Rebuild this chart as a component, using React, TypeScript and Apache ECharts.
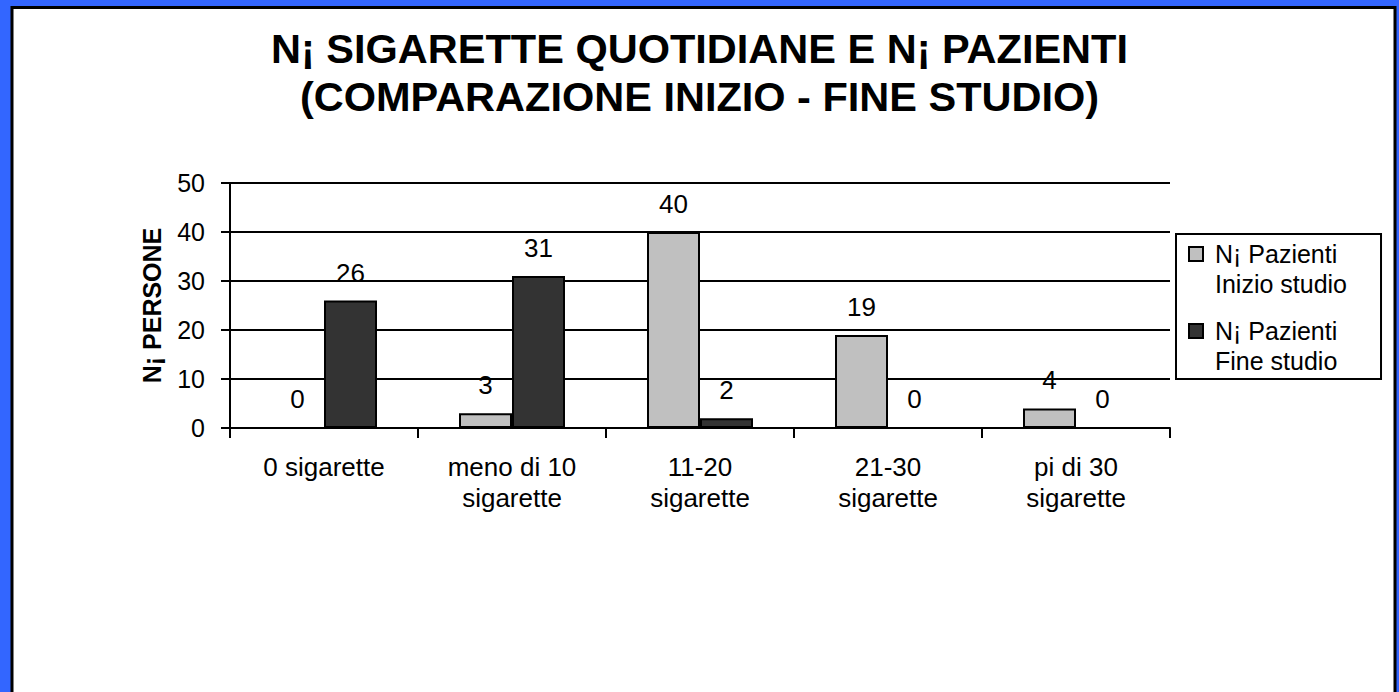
import React, { useEffect, useRef } from "react";
import * as echarts from "echarts";

const categories = [
  "0 sigarette",
  "meno di 10\nsigarette",
  "11-20\nsigarette",
  "21-30\nsigarette",
  "pi di 30\nsigarette",
];
const seriesNames = ["N¡ Pazienti\nInizio studio", "N¡ Pazienti\nFine studio"];
const inizioStudio = [0, 3, 40, 19, 4];
const fineStudio = [26, 31, 2, 0, 0];
const yTicks = { min: 0, max: 50, interval: 10 };
const titleText = "N¡ SIGARETTE QUOTIDIANE E N¡ PAZIENTI\n(COMPARAZIONE INIZIO - FINE STUDIO)";
const yAxisName = "N¡ PERSONE";

const FONT = "'Liberation Sans', Arial, Helvetica, sans-serif";
// legend square sits at the top of a taller invisible box so it lines up with the first text line
const LEGEND_ICON = "path://M0,0 M21,60 M0,8 L14,8 L14,22 L0,22 Z";

export default function App() {
  const ref = useRef<HTMLDivElement>(null);
  useEffect(() => {
    if (!ref.current) return;
    const chart = echarts.init(ref.current, undefined, { renderer: "svg" });
    const labelStyle = {
      show: true,
      position: "top" as const,
      distance: 15,
      color: "#000",
      fontSize: 26,
      fontFamily: FONT,
    };
    chart.setOption({
      animation: false,
      backgroundColor: "#3366ff",
      graphic: [
        {
          type: "rect",
          z: -10,
          silent: true,
          shape: { x: 12, y: 7.5, width: 1383, height: 800 },
          style: { fill: "#ffffff", stroke: "#000000", lineWidth: 3 },
        },
      ],
      title: {
        text: titleText,
        left: "center",
        top: 24,
        padding: 0,
        textStyle: {
          fontFamily: FONT,
          fontWeight: "bold",
          fontSize: 41.5,
          lineHeight: 48,
          color: "#000",
        },
      },
      legend: {
        orient: "vertical",
        left: 1176,
        top: 234,
        padding: [4, 34, 2, 12],
        backgroundColor: "#fff",
        borderColor: "#000",
        borderWidth: 2,
        itemWidth: 21,
        itemHeight: 60,
        itemGap: 15,
        icon: LEGEND_ICON,
        selectedMode: false,
        textStyle: {
          fontFamily: FONT,
          fontSize: 25,
          lineHeight: 30,
          color: "#000",
        },
        data: seriesNames,
      },
      grid: { left: 230, top: 183, width: 940, height: 245, containLabel: false },
      xAxis: {
        type: "category",
        data: categories,
        boundaryGap: true,
        axisLine: { show: true, lineStyle: { color: "#000", width: 2 } },
        axisTick: { show: true, length: 10, alignWithLabel: false, lineStyle: { color: "#000", width: 2 } },
        axisLabel: {
          color: "#000",
          fontFamily: FONT,
          fontSize: 26,
          lineHeight: 31,
          margin: 23,
          interval: 0,
        },
        splitLine: { show: false },
      },
      yAxis: {
        type: "value",
        min: yTicks.min,
        max: yTicks.max,
        interval: yTicks.interval,
        name: yAxisName,
        nameLocation: "middle",
        nameRotate: 90,
        nameGap: 66,
        nameTextStyle: {
          fontFamily: FONT,
          fontWeight: "bold",
          fontSize: 25,
          color: "#000",
        },
        axisLine: { show: true, lineStyle: { color: "#000", width: 2 } },
        axisTick: { show: true, length: 9, lineStyle: { color: "#000", width: 2 } },
        axisLabel: { color: "#000", fontFamily: FONT, fontSize: 25, margin: 25 },
        splitLine: { show: true, lineStyle: { color: "#000", width: 2 } },
      },
      series: [
        {
          name: seriesNames[0],
          type: "bar",
          data: inizioStudio,
          barWidth: 53,
          barGap: "0%",
          itemStyle: { color: "#c0c0c0", borderColor: "#000", borderWidth: 2 },
          label: labelStyle,
        },
        {
          name: seriesNames[1],
          type: "bar",
          data: fineStudio,
          barWidth: 53,
          barGap: "0%",
          itemStyle: { color: "#333333", borderColor: "#000", borderWidth: 2 },
          label: labelStyle,
        },
      ],
    });
    return () => chart.dispose();
  }, []);
  return (
    <div
      ref={ref}
      style={{ position: "fixed", left: 0, top: 0, width: 1399, height: 692 }}
    />
  );
}
